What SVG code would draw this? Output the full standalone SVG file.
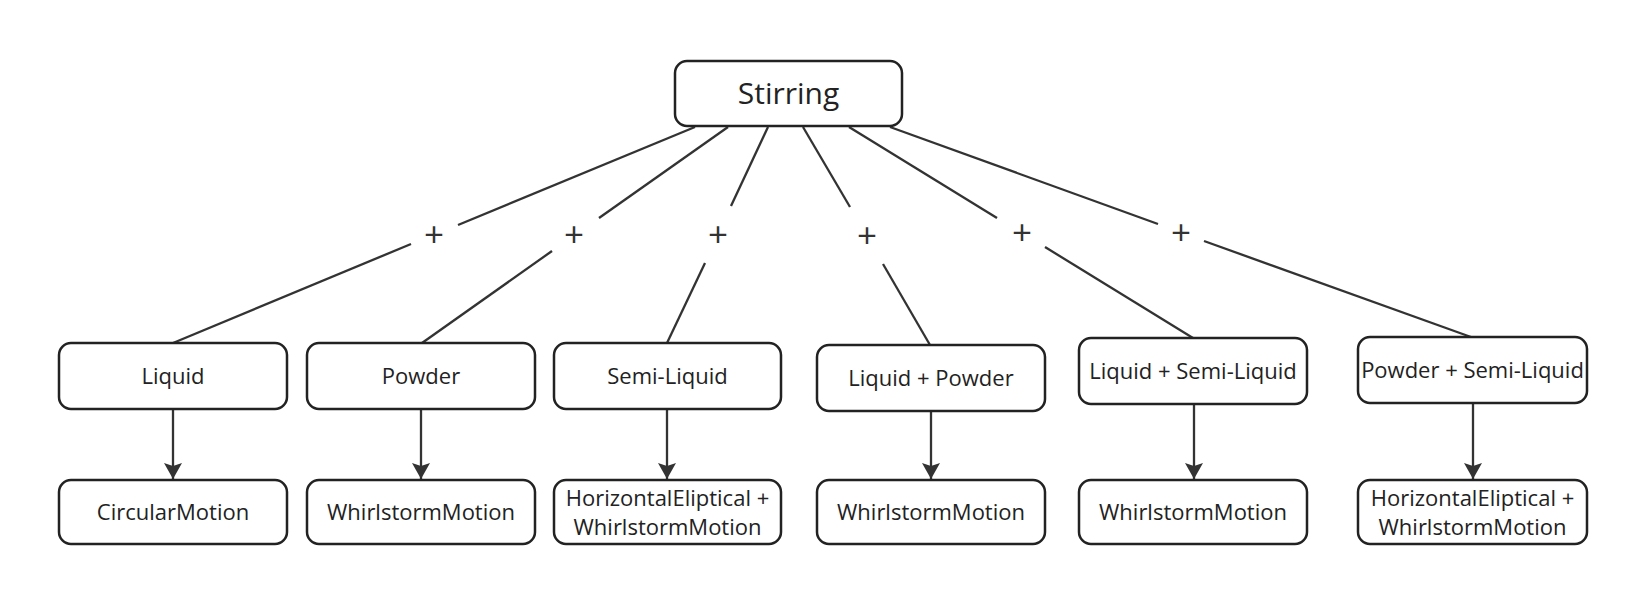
<svg xmlns="http://www.w3.org/2000/svg" width="1648" height="606" viewBox="0 0 1648 606">
<style>
.box{fill:#fff;stroke:#222;stroke-width:2.5}
.t{font-family:"Open Sans","Noto Sans",sans-serif;font-size:22px;fill:#222;text-anchor:middle}
.big{font-size:30px}
.plus{font-family:"Open Sans","Noto Sans",sans-serif;font-size:35px;fill:#333;text-anchor:middle}
.ln{stroke:#333;stroke-width:2.3;fill:none}
.ar{stroke:#333;stroke-width:2.3;fill:none;marker-end:url(#ah)}
</style>
<defs>
<marker id="ah" markerUnits="userSpaceOnUse" markerWidth="18" markerHeight="20" viewBox="0 0 18 20" refX="17" refY="10" orient="auto">
<path d="M1,1 L4,10 L1,19 L17,10 Z" fill="#333"/>
</marker>
</defs>
<rect width="1648" height="606" fill="#fff"/>
<g id="connectors">
<line class="ln" x1="695" y1="127" x2="458" y2="225"/>
<line class="ln" x1="411" y1="244" x2="173" y2="343"/>
<line class="ln" x1="728" y1="127" x2="599" y2="218"/>
<line class="ln" x1="552" y1="251" x2="422" y2="343"/>
<line class="ln" x1="768" y1="127" x2="731" y2="206"/>
<line class="ln" x1="705" y1="263" x2="667" y2="343"/>
<line class="ln" x1="803" y1="127" x2="850" y2="207"/>
<line class="ln" x1="883" y1="264" x2="930" y2="345"/>
<line class="ln" x1="849" y1="127" x2="997" y2="218"/>
<line class="ln" x1="1045" y1="247" x2="1193" y2="338"/>
<line class="ln" x1="890" y1="127" x2="1158" y2="224"/>
<line class="ln" x1="1204" y1="241" x2="1471" y2="337"/>
<text class="plus" x="434" y="247">+</text>
<text class="plus" x="574" y="247">+</text>
<text class="plus" x="718" y="247">+</text>
<text class="plus" x="867" y="248">+</text>
<text class="plus" x="1022" y="245">+</text>
<text class="plus" x="1181" y="245">+</text>
<line class="ar" x1="173" y1="409" x2="173" y2="479"/>
<line class="ar" x1="421" y1="409" x2="421" y2="479"/>
<line class="ar" x1="667" y1="409" x2="667" y2="479"/>
<line class="ar" x1="931" y1="411" x2="931" y2="479"/>
<line class="ar" x1="1194" y1="404" x2="1194" y2="479"/>
<line class="ar" x1="1473" y1="403" x2="1473" y2="479"/>
</g>
<g id="stirring"><rect class="box" x="675" y="61" width="227" height="65" rx="12"/><text class="t big" x="788.5" y="104">Stirring</text></g>
<g id="liquid"><rect class="box" x="59" y="343" width="228" height="66" rx="12"/><text class="t" x="173" y="384">Liquid</text></g>
<g id="powder"><rect class="box" x="307" y="343" width="228" height="66" rx="12"/><text class="t" x="421" y="384">Powder</text></g>
<g id="semi-liquid"><rect class="box" x="554" y="343" width="227" height="66" rx="12"/><text class="t" x="667.5" y="384">Semi-Liquid</text></g>
<g id="liquid-powder"><rect class="box" x="817" y="345" width="228" height="66" rx="12"/><text class="t" x="931" y="386">Liquid + Powder</text></g>
<g id="liquid-semi-liquid"><rect class="box" x="1079" y="338" width="228" height="66" rx="12"/><text class="t" x="1193" y="379">Liquid + Semi-Liquid</text></g>
<g id="powder-semi-liquid"><rect class="box" x="1358" y="337" width="229" height="66" rx="12"/><text class="t" x="1472.5" y="378">Powder + Semi-Liquid</text></g>
<g id="circular-motion"><rect class="box" x="59" y="480" width="228" height="64" rx="12"/><text class="t" x="173" y="520">CircularMotion</text></g>
<g id="whirlstorm-1"><rect class="box" x="307" y="480" width="228" height="64" rx="12"/><text class="t" x="421" y="520">WhirlstormMotion</text></g>
<g id="he-wm-1"><rect class="box" x="554" y="480" width="227" height="64" rx="12"/><text class="t" x="667.5" y="506">HorizontalEliptical +</text><text class="t" x="667.5" y="535">WhirlstormMotion</text></g>
<g id="whirlstorm-2"><rect class="box" x="817" y="480" width="228" height="64" rx="12"/><text class="t" x="931" y="520">WhirlstormMotion</text></g>
<g id="whirlstorm-3"><rect class="box" x="1079" y="480" width="228" height="64" rx="12"/><text class="t" x="1193" y="520">WhirlstormMotion</text></g>
<g id="he-wm-2"><rect class="box" x="1358" y="480" width="229" height="64" rx="12"/><text class="t" x="1472.5" y="506">HorizontalEliptical +</text><text class="t" x="1472.5" y="535">WhirlstormMotion</text></g>
</svg>
